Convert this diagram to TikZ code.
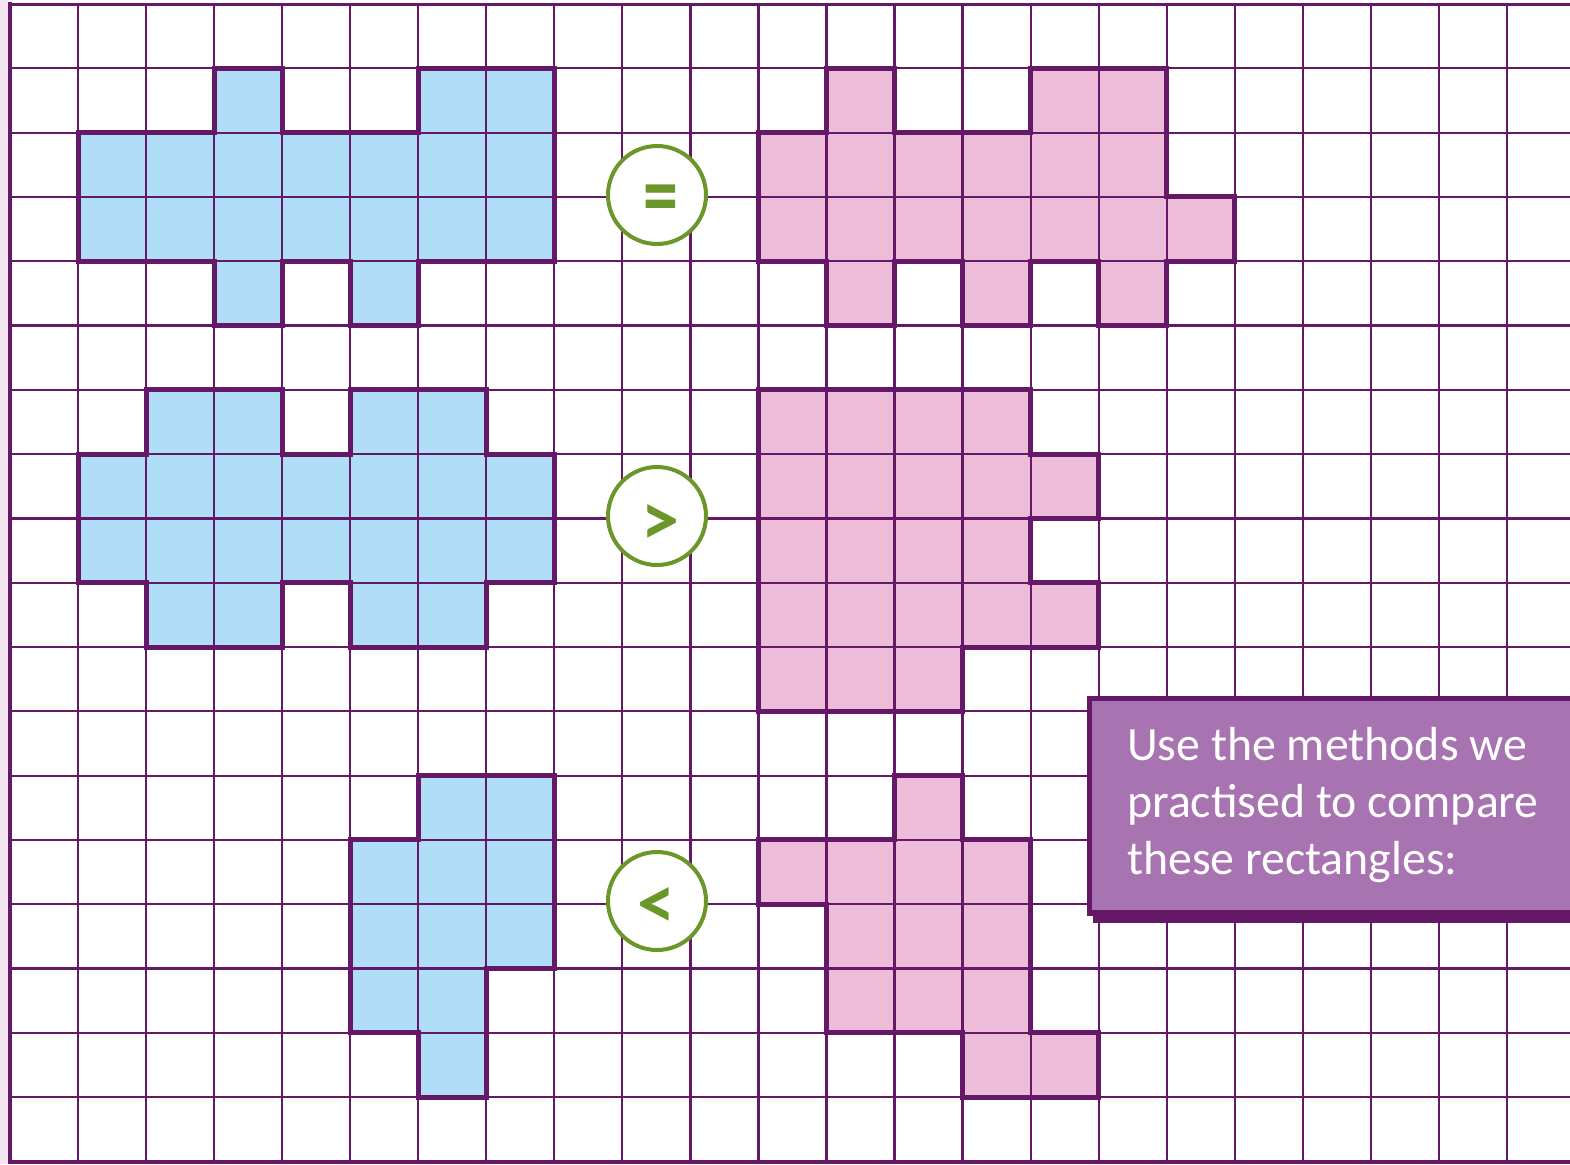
\documentclass[tikz,border=0pt]{standalone}
\usepackage{fontspec}
\newfontfamily\carlito{Carlito}
\definecolor{gridp}{HTML}{661868}
\definecolor{bluef}{HTML}{B0DEF6}
\definecolor{pinkf}{HTML}{EDBCD9}
\definecolor{boxf}{HTML}{A873B1}
\definecolor{greenc}{HTML}{6B962A}
\definecolor{stripc}{HTML}{F3E6F1}
\tikzset{
  gridline/.style={draw=gridp, line width=2.2pt},
  outline/.style={draw=gridp, line width=5pt, line join=miter},
  cmpcircle/.style={circle, draw=greenc, line width=4pt, fill=white, minimum size=98pt, inner sep=0pt},
  symtext/.style={text=greenc, inner sep=0pt, font=\carlito\bfseries\fontsize{76}{76}\selectfont},
  eqtext/.style={text=greenc, inner sep=0pt, yscale=1.3, font=\carlito\bfseries\fontsize{70}{70}\selectfont},
  boxtext/.style={text=white, inner sep=0pt, anchor=base west, font=\carlito\fontsize{47.8}{57}\selectfont},
}
\def\shapeA{(1,2) -- (3,2) -- (3,1) -- (4,1) -- (4,2) -- (6,2) -- (6,1) -- (8,1) -- (8,4) -- (6,4) -- (6,5) -- (5,5) -- (5,4) -- (4,4) -- (4,5) -- (3,5) -- (3,4) -- (1,4) -- cycle}
\def\shapeB{(11,2) -- (12,2) -- (12,1) -- (13,1) -- (13,2) -- (15,2) -- (15,1) -- (17,1) -- (17,3) -- (18,3) -- (18,4) -- (17,4) -- (17,5) -- (16,5) -- (16,4) -- (15,4) -- (15,5) -- (14,5) -- (14,4) -- (13,4) -- (13,5) -- (12,5) -- (12,4) -- (11,4) -- cycle}
\def\shapeC{(1,7) -- (2,7) -- (2,6) -- (4,6) -- (4,7) -- (5,7) -- (5,6) -- (7,6) -- (7,7) -- (8,7) -- (8,9) -- (7,9) -- (7,10) -- (5,10) -- (5,9) -- (4,9) -- (4,10) -- (2,10) -- (2,9) -- (1,9) -- cycle}
\def\shapeD{(11,6) -- (15,6) -- (15,7) -- (16,7) -- (16,8) -- (15,8) -- (15,9) -- (16,9) -- (16,10) -- (14,10) -- (14,11) -- (11,11) -- cycle}
\def\shapeE{(6,12) -- (8,12) -- (8,15) -- (7,15) -- (7,17) -- (6,17) -- (6,16) -- (5,16) -- (5,13) -- (6,13) -- cycle}
\def\shapeF{(13,12) -- (14,12) -- (14,13) -- (15,13) -- (15,16) -- (16,16) -- (16,17) -- (14,17) -- (14,16) -- (12,16) -- (12,14) -- (11,14) -- (11,13) -- (13,13) -- cycle}
\begin{document}
\begin{tikzpicture}[x=1pt,y=-1pt]
\useasboundingbox (0,0) rectangle (1570,1164);
\fill[white] (0,0) rectangle (1570,1164);
\fill[stripc] (0,0) rectangle (8,1164);
\begin{scope}[shift={(10,4)}, x=68.04pt, y=-64.3pt]
  \fill[bluef] \shapeA;
  \fill[pinkf] \shapeB;
  \fill[bluef] \shapeC;
  \fill[pinkf] \shapeD;
  \fill[bluef] \shapeE;
  \fill[pinkf] \shapeF;
  \foreach \i in {1,...,22} \draw[gridline] (\i,0) -- (\i,18);
  \foreach \j in {1,...,17} \draw[gridline] (0,\j) -- (23.2,\j);
  \draw[outline] \shapeA;
  \draw[outline] \shapeB;
  \draw[outline] \shapeC;
  \draw[outline] \shapeD;
  \draw[outline] \shapeE;
  \draw[outline] \shapeF;
\end{scope}
% frame
\draw[gridp, line width=4pt] (10,2.5) -- (10,1164);
\draw[gridp, line width=3.5pt] (8,4.3) -- (1570,4.3);
\draw[gridp, line width=4pt] (8,1162) -- (1570,1162);
% comparison circles
\node[cmpcircle] (c1) at (657,195) {};
\node[cmpcircle] (c2) at (657,516) {};
\node[cmpcircle] (c3) at (657,901) {};
\node[eqtext, transform shape] (s1) at (660.5,205) {=};
\node[symtext] (s2) at (660.7,525.5) {>};
\node[symtext] (s3) at (656.7,908) {<};
% text box
\fill[gridp] (1093,700) rectangle (1585,923);
\draw[draw=gridp, fill=boxf, line width=5.4pt] (1089.2,698.7) rectangle (1585,913);
\node[boxtext] (t1) at (1127,760) {Use the methods we};
\node[boxtext] (t2) at (1127,817) {practised to compare};
\node[boxtext] (t3) at (1127,874) {these rectangles:};
\end{tikzpicture}
\end{document}
